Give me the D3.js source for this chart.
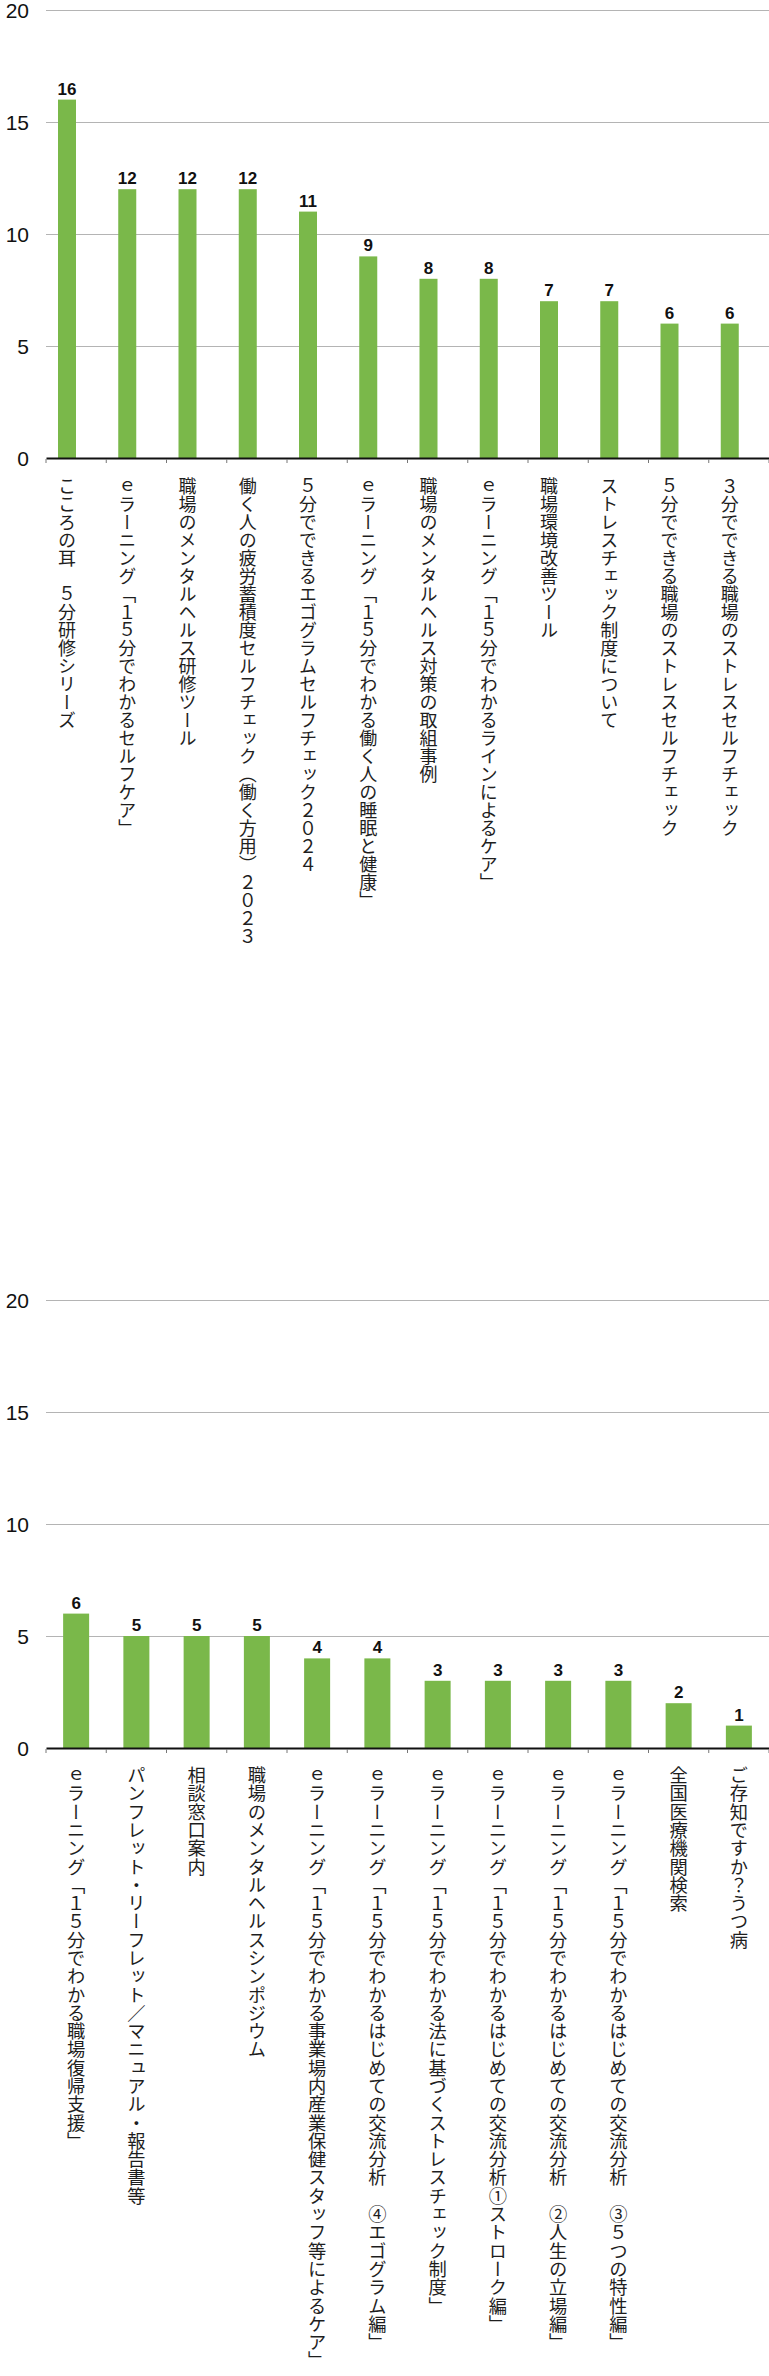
<!DOCTYPE html>
<html lang="ja">
<head>
<meta charset="utf-8">
<script src="https://cdn.jsdelivr.net/npm/d3@7.9.0/dist/d3.min.js"></script>
<style>
  html, body { margin: 0; padding: 0; background: #fff; }
  svg { display: block; }
  .ytick { font-family: "Liberation Sans", Arial, sans-serif; font-size: 21px; fill: #111; }
  .value { font-family: "Liberation Sans", Arial, sans-serif; font-size: 17px; font-weight: bold; fill: #111; }
  .cat { font-family: "Noto Sans CJK JP", sans-serif; fill: #1e1e1e; writing-mode: vertical-rl; }
</style>
</head>
<body>
<div id="chart"></div>
<script>
// ranking, upper panel
const topCategories = [
  'こころの耳　５分研修シリーズ',
  'ｅラーニング「１５分でわかるセルフケア」',
  '職場のメンタルヘルス研修ツール',
  '働く人の疲労蓄積度セルフチェック（働く方用）２０２３',
  '５分でできるエゴグラムセルフチェック２０２４',
  'ｅラーニング「１５分でわかる働く人の睡眠と健康」',
  '職場のメンタルヘルス対策の取組事例',
  'ｅラーニング「１５分でわかるラインによるケア」',
  '職場環境改善ツール',
  'ストレスチェック制度について',
  '５分でできる職場のストレスセルフチェック',
  '３分でできる職場のストレスセルフチェック'
];
const topValues = [16, 12, 12, 12, 11, 9, 8, 8, 7, 7, 6, 6];

// ranking, lower panel
const bottomCategories = [
  'ｅラーニング「１５分でわかる職場復帰支援」',
  'パンフレット・リーフレット／マニュアル・報告書等',
  '相談窓口案内',
  '職場のメンタルヘルスシンポジウム',
  'ｅラーニング「１５分でわかる事業場内産業保健スタッフ等によるケア」',
  'ｅラーニング「１５分でわかるはじめての交流分析　④エゴグラム編」',
  'ｅラーニング「１５分でわかる法に基づくストレスチェック制度」',
  'ｅラーニング「１５分でわかるはじめての交流分析①ストローク編」',
  'ｅラーニング「１５分でわかるはじめての交流分析　②人生の立場編」',
  'ｅラーニング「１５分でわかるはじめての交流分析　③５つの特性編」',
  '全国医療機関検索',
  'ご存知ですか？うつ病'
];
const bottomValues = [6, 5, 5, 5, 4, 4, 3, 3, 3, 3, 2, 1];

const yTicks = [0, 5, 10, 15, 20];

const width = 769;
const height = 2376;

const svg = d3.select('#chart')
  .append('svg')
  .attr('width', width)
  .attr('height', height)
  .attr('viewBox', `0 0 ${width} ${height}`);

function renderBarChart(categories, values, opts) {
  const data = categories.map((c, i) => ({ name: c, value: values[i] }));
  const g = svg.append('g');

  const xScale = d3.scaleBand()
    .domain(categories)
    .range([46, 769]);
  const yScale = d3.scaleLinear()
    .domain([0, 20])
    .range([opts.bottom, opts.top]);

  // gridlines
  g.append('g')
    .selectAll('line')
    .data(yTicks.filter(d => d > 0))
    .join('line')
    .attr('x1', 46)
    .attr('x2', 769)
    .attr('y1', d => yScale(d) + 0.5)
    .attr('y2', d => yScale(d) + 0.5)
    .attr('stroke', '#b4b4b4')
    .attr('stroke-width', 1);

  // y labels
  g.append('g')
    .selectAll('text')
    .data(yTicks)
    .join('text')
    .attr('class', 'ytick')
    .attr('x', 29)
    .attr('y', d => yScale(d))
    .attr('dy', '0.38em')
    .attr('text-anchor', 'end')
    .text(d => d);

  // bars
  const barX = d => xScale(d.name) + opts.barOffset(xScale.bandwidth());
  g.append('g')
    .selectAll('rect')
    .data(data)
    .join('rect')
    .attr('x', barX)
    .attr('y', d => yScale(d.value))
    .attr('width', opts.barWidth)
    .attr('height', d => yScale(0) - yScale(d.value))
    .attr('fill', '#7ab84a');

  // value labels
  g.append('g')
    .selectAll('text')
    .data(data)
    .join('text')
    .attr('class', 'value')
    .attr('x', d => barX(d) + opts.barWidth / 2)
    .attr('y', d => yScale(d.value) - 5)
    .attr('text-anchor', 'middle')
    .text(d => d.value);

  // x axis: baseline + small ticks on band edges
  const xAxis = d3.axisBottom(xScale)
    .tickSize(0)
    .tickFormat('');
  const axisG = g.append('g')
    .attr('transform', `translate(0, ${yScale(0)})`)
    .call(xAxis);
  axisG.select('.domain').attr('stroke', '#111').attr('stroke-width', 2);
  axisG.selectAll('.tick').remove();
  axisG.selectAll('.edge')
    .data(d3.range(categories.length + 1))
    .join('line')
    .attr('class', 'edge')
    .attr('x1', i => 46 + i * xScale.step())
    .attr('x2', i => 46 + i * xScale.step())
    .attr('y1', 1)
    .attr('y2', 5)
    .attr('stroke', '#777');

  // category labels (vertical)
  g.append('g')
    .selectAll('text')
    .data(data)
    .join('text')
    .attr('class', 'cat')
    .attr('x', d => barX(d) + opts.barWidth / 2)
    .attr('y', opts.labelTop)
    .style('font-size', opts.labelSize + 'px')
    .text(d => d.name);
}

renderBarChart(topCategories, topValues, {
  top: 10, bottom: 458, labelTop: 477, labelSize: 18,
  barWidth: 18, barOffset: () => 12
});

renderBarChart(bottomCategories, bottomValues, {
  top: 1300, bottom: 1748, labelTop: 1766, labelSize: 18.3,
  barWidth: 26, barOffset: bw => (bw - 26) / 2
});
</script>
</body>
</html>
